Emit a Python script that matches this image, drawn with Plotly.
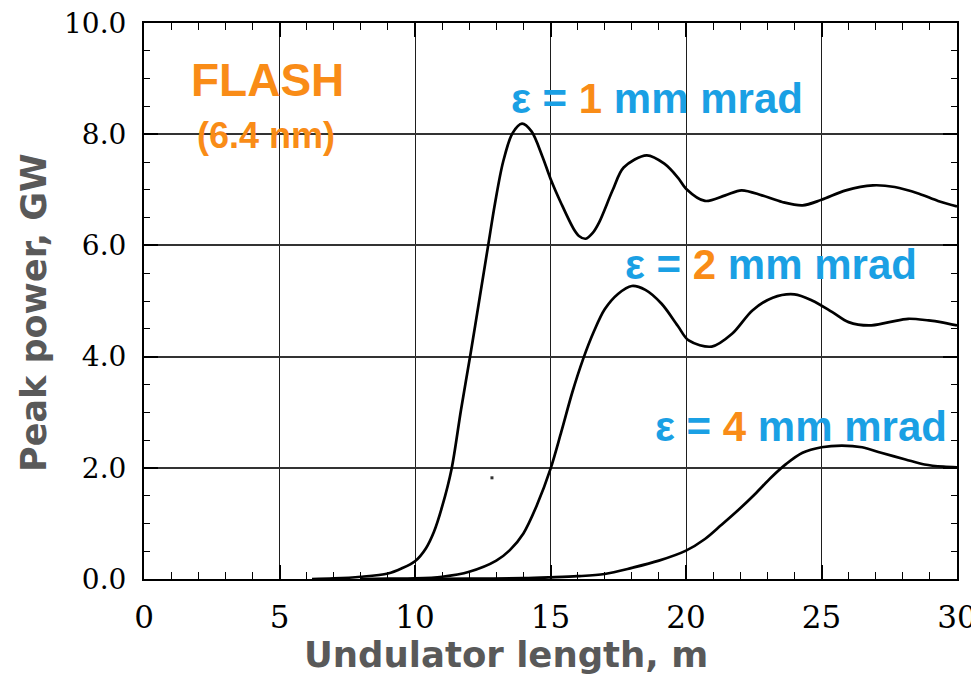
import plotly.graph_objects as go

# ---- data ----
x_e1 = [6.2, 7.0, 8.0, 9.0, 9.5, 10.0, 10.4, 10.7, 11.0, 11.35, 11.7, 12.05, 12.4, 12.7,
        12.95, 13.25, 13.6, 13.95, 14.3, 14.7, 15.0, 15.4, 15.85, 16.05, 16.3, 16.55, 16.8,
        17.3, 17.7, 18.55, 19.2, 19.7, 20.0, 20.7, 21.45, 22.05, 22.8, 23.55, 24.3, 25.0,
        25.9, 26.9, 27.7, 28.6, 29.3, 30.0]
y_e1 = [0.0, 0.01, 0.04, 0.1, 0.19, 0.32, 0.55, 0.85, 1.3, 1.98, 3.05, 4.05, 5.1, 6.0,
        6.75, 7.5, 8.02, 8.19, 8.05, 7.6, 7.2, 6.75, 6.3, 6.17, 6.12, 6.22, 6.42,
        7.0, 7.4, 7.62, 7.47, 7.22, 7.02, 6.8, 6.9, 6.99, 6.9, 6.78, 6.72, 6.82,
        6.99, 7.08, 7.05, 6.93, 6.8, 6.7]

x_e2 = [8.0, 9.0, 10.0, 11.0, 12.0, 13.0, 13.5, 14.0, 14.5, 15.0, 15.4, 15.8, 16.2,
        16.6, 17.0, 17.5, 18.0, 18.5, 19.1, 19.7, 20.1, 20.95, 21.7, 22.45, 23.2, 24.0,
        24.65, 25.4, 26.0, 26.75, 27.5, 28.2, 28.95, 29.4, 30.0]
y_e2 = [0.0, 0.005, 0.01, 0.04, 0.13, 0.33, 0.52, 0.82, 1.33, 1.98, 2.65, 3.35, 3.95,
        4.45, 4.85, 5.13, 5.27, 5.2, 4.95, 4.55, 4.29, 4.18, 4.41, 4.83, 5.06, 5.12,
        5.01, 4.8, 4.62, 4.56, 4.62, 4.68, 4.65, 4.62, 4.56]

x_e4 = [10.0, 12.0, 14.0, 15.0, 16.0, 17.0, 18.0, 19.0, 20.0, 20.7, 21.3, 21.95, 22.55,
        23.15, 23.7, 24.3, 25.0, 25.75, 26.5, 27.2, 28.1, 28.8, 29.5, 30.0]
y_e4 = [0.0, 0.005, 0.015, 0.03, 0.05, 0.09, 0.2, 0.33, 0.51, 0.72, 0.97, 1.25, 1.53,
        1.83, 2.07, 2.27, 2.37, 2.4, 2.37, 2.27, 2.15, 2.06, 2.02, 2.01]

stray_x = [12.84]
stray_y = [1.82]

emittances = ["1", "2", "4"]
label_x = [18.93, 23.15, 24.24]
label_y = [8.65, 5.65, 2.75]

x_ticks = [0, 5, 10, 15, 20, 25, 30]
y_ticks = [0, 2, 4, 6, 8, 10]

BLUE = "#1AA0E4"
ORANGE = "#F98C17"
TITLE_GRAY = "#595959"

fig = go.Figure()
for xs, ys in [(x_e1, y_e1), (x_e2, y_e2), (x_e4, y_e4)]:
    fig.add_trace(go.Scatter(x=xs, y=ys, mode="lines",
                             line=dict(color="black", width=2.7, shape="spline", smoothing=0.9),
                             hoverinfo="skip"))
fig.add_trace(go.Scatter(x=stray_x, y=stray_y, mode="markers",
                         marker=dict(symbol="square", size=3, color="#333"), hoverinfo="skip"))

# white box behind the FLASH label (hides grid lines there)
fig.add_shape(type="rect", xref="x", yref="y", x0=0.85, x1=8.27, y0=7.48, y1=9.69,
              fillcolor="white", line=dict(width=0), layer="below")

fig.add_annotation(x=4.54, y=8.97, xref="x", yref="y", text="FLASH", showarrow=False,
                   font=dict(family="Liberation Sans, Arial", size=46, color=ORANGE, weight="bold"))
fig.add_annotation(x=4.5, y=7.98, xref="x", yref="y", text="(6.4 nm)", showarrow=False,
                   font=dict(family="Liberation Sans, Arial", size=36, color=ORANGE, weight="bold"))

for e, lx, ly in zip(emittances, label_x, label_y):
    fig.add_annotation(x=lx, y=ly, xref="x", yref="y", showarrow=False,
                       text=f"ε = <span style='color:{ORANGE}'>{e}</span> mm mrad",
                       font=dict(family="Liberation Sans, Arial", size=42, color=BLUE, weight="bold"))

# axis titles
fig.add_annotation(x=(506 - 144) / 813, y=(579 - 654) / 556, xref="paper", yref="paper",
                   text="Undulator length, m", showarrow=False, xanchor="center", yanchor="middle",
                   font=dict(family="DejaVu Sans", size=35.5, color=TITLE_GRAY, weight="bold"))
fig.add_annotation(x=(34 - 144) / 813, y=(579 - 313) / 556, xref="paper", yref="paper",
                   text="Peak power, GW", showarrow=False, textangle=-90,
                   xanchor="center", yanchor="middle",
                   font=dict(family="DejaVu Sans", size=35, color=TITLE_GRAY, weight="bold"))

axis_common = dict(showline=True, linecolor="black", linewidth=2, mirror="allticks",
                   ticks="inside", ticklen=14, tickwidth=1.5, tickcolor="black",
                   showgrid=True, zeroline=False, automargin=False,
                   ticklabeloverflow="allow")

fig.update_xaxes(range=[0, 30], tickvals=x_ticks, ticktext=[str(v) for v in x_ticks],
                 gridcolor="#1e1e1e", gridwidth=1.3,
                 tickfont=dict(family="DejaVu Serif", size=31, color="black"),
                 ticklabelstandoff=10,
                 minor=dict(dtick=1, tick0=0, ticks="inside", ticklen=7, tickwidth=1.3,
                            tickcolor="black", showgrid=False),
                 **axis_common)
fig.update_yaxes(range=[0, 10], tickvals=y_ticks, ticktext=[f"{v:.1f}" for v in y_ticks],
                 gridcolor="#333333", gridwidth=1.7,
                 tickfont=dict(family="DejaVu Serif", size=28, color="black"),
                 ticklabelstandoff=10,
                 minor=dict(dtick=0.5, tick0=0, ticks="inside", ticklen=6, tickwidth=1.3,
                            tickcolor="black", showgrid=False),
                 **axis_common)

# page body has an 8px default margin, so the figure is offset by (8, 8)
fig.update_layout(width=971, height=672, margin=dict(l=136, r=22, t=15, b=101),
                  plot_bgcolor="white", paper_bgcolor="white", showlegend=False)

fig.write_html("out.html")
